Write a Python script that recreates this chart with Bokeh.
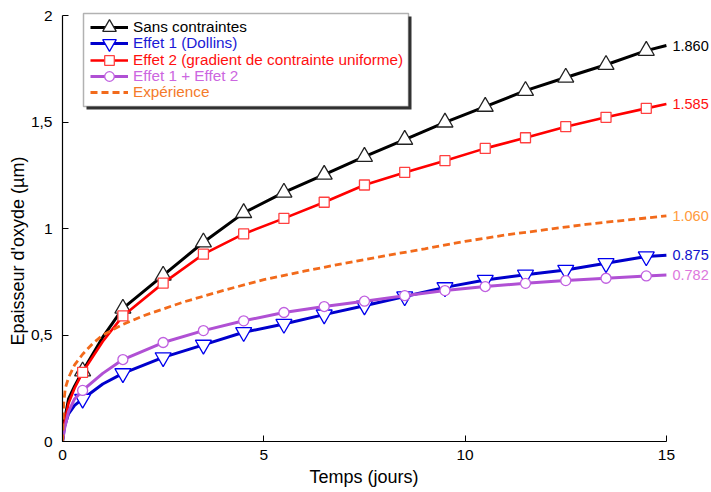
import numpy as np
from bokeh.plotting import figure
from bokeh.models import (Legend, LegendItem, BoxAnnotation, ColumnDataSource,
                          CustomJSTickFormatter, Title)
from bokeh.core.properties import value
from bokeh.embed import file_html
from bokeh.resources import INLINE

FONT = "Liberation Sans"

# ---------------- data ----------------
t = [0, 0.05, 0.15, 0.3, 0.5, 1.0, 1.5, 2.5, 3.5, 4.5, 5.5, 6.5, 7.5, 8.5,
     9.5, 10.5, 11.5, 12.5, 13.5, 14.5, 15]
sans_contraintes = [0, 0.10, 0.20, 0.26, 0.33, 0.49, 0.625, 0.78, 0.936, 1.074,
                    1.17, 1.254, 1.338, 1.418, 1.499, 1.573, 1.648, 1.710,
                    1.770, 1.836, 1.860]
effet1 = [0, 0.07, 0.13, 0.17, 0.20, 0.27, 0.32, 0.395, 0.454, 0.513, 0.552,
          0.596, 0.638, 0.681, 0.724, 0.759, 0.783, 0.806, 0.837, 0.869, 0.875]
effet2 = [0, 0.09, 0.18, 0.25, 0.325, 0.47, 0.59, 0.744, 0.880, 0.975, 1.048,
          1.124, 1.205, 1.264, 1.319, 1.377, 1.427, 1.479, 1.523, 1.565, 1.585]
effet12 = [0, 0.06, 0.14, 0.20, 0.24, 0.32, 0.385, 0.465, 0.521, 0.567, 0.606,
           0.634, 0.659, 0.685, 0.709, 0.728, 0.743, 0.756, 0.767, 0.778, 0.782]
exp_t = [0, 0.03, 0.07, 0.15, 0.3, 0.5, 0.75, 1, 1.5, 2, 3, 4, 5, 6, 7, 8, 9,
         10, 11, 12, 13, 14, 15]
experience = [0, 0.18, 0.25, 0.30, 0.36, 0.41, 0.46, 0.50, 0.55, 0.59, 0.655,
              0.71, 0.76, 0.80, 0.837, 0.872, 0.905, 0.94, 0.97, 0.995, 1.02,
              1.04, 1.06]

labels = ["Sans contraintes", "Effet 1 (Dollins)",
          "Effet 2 (gradient de contrainte uniforme)", "Effet 1 + Effet 2",
          "Expérience"]
x_title = "Temps (jours)"
y_title = "Epaisseur d'oxyde (µm)"
x_ticks = [0, 5, 10, 15]
y_ticks = [0, 0.5, 1, 1.5, 2]

# ---------------- figure ----------------
p = figure(width=711, height=492, x_range=(0, 16.12), y_range=(0, 2.02),
           output_backend="svg", toolbar_location=None,
           min_border_left=62, min_border_right=0, min_border_top=11,
           min_border_bottom=51)
p.outline_line_color = None
p.xgrid.grid_line_color = None
p.ygrid.grid_line_color = None
p.background_fill_color = "white"

for ax in (p.xaxis[0], p.yaxis[0]):
    ax.axis_line_color = "black"
    ax.axis_line_width = 1.2
    ax.major_tick_line_color = "black"
    ax.major_tick_in = 6
    ax.major_tick_out = 0
    ax.minor_tick_line_color = None
    ax.major_label_text_font = FONT
    ax.major_label_text_font_size = "15.5px"
    ax.major_label_text_color = "black"

p.xaxis.ticker = x_ticks
p.yaxis.ticker = y_ticks
p.xaxis.bounds = (0, 15)
p.yaxis.bounds = (0, 2)
p.xaxis.major_label_standoff = 8
p.yaxis.major_label_standoff = 10
p.yaxis.formatter = CustomJSTickFormatter(code="return tick.toString().replace('.', ',');")

# axis titles, positioned like the original (centred on the 0-15 span)
p.add_layout(Title(text=x_title, align="left", offset=247, standoff=5,
                   text_font=FONT, text_font_size="18px",
                   text_font_style="normal", text_color="black"), "below")
p.add_layout(Title(text=y_title, align="left", offset=96, standoff=0,
                   text_font=FONT, text_font_size="18px",
                   text_font_style="normal", text_color="black"), "left")

# ---------------- series ----------------
tt = np.array(t)
mask = np.isclose(np.mod(tt, 1.0), 0.5)

series = [
    dict(y=sans_contraintes, lc="#000000", lw=3, marker="triangle", ms=16,
         mlc="#222222", tc="#000000", gh=34),
    dict(y=effet1, lc="#0000cc", lw=3, marker="inverted_triangle", ms=16,
         mlc="#0000ee", tc="#1a1ad6", gh=34),
    dict(y=effet2, lc="#ff0000", lw=2.6, marker="square", ms=10,
         mlc="#ff4040", tc="#ff1010", gh=24),
    dict(y=effet12, lc="#b050d4", lw=3, marker="circle", ms=10,
         mlc="#c060e0", tc="#cc66e0", gh=24),
]

renderers = []
for s in series:
    yy = np.array(s["y"])
    src_line = ColumnDataSource(dict(x=tt, y=yy))
    src_mark = ColumnDataSource(dict(x=tt[mask], y=yy[mask]))
    rl = p.line("x", "y", source=src_line, line_color=s["lc"],
                line_width=s["lw"])
    rm = p.scatter("x", "y", source=src_mark, marker=s["marker"], size=s["ms"],
                   fill_color="white", line_color=s["mlc"], line_width=1.3)
    renderers.append([rl, rm])

src_exp = ColumnDataSource(dict(x=exp_t, y=experience))
re = p.line("x", "y", source=src_exp, line_color="#f26a1b", line_width=2.8,
            line_dash="7 4")
renderers.append([re])

# end-value labels
end_vals = [sans_contraintes[-1], effet2[-1], experience[-1], effet1[-1],
            effet12[-1]]
end_cols = ["#000000", "#ff1010", "#ff9a3c", "#1010cc", "#dd77dd"]
end_src = ColumnDataSource(dict(
    x=[t[-1] + 0.15] * len(end_vals), y=end_vals,
    txt=[f"{v:.3f}" for v in end_vals], c=end_cols))
p.text("x", "y", text="txt", source=end_src, text_color="c",
       text_font=value(FONT), text_font_size="14.5px",
       text_baseline="middle", text_align="left")

# ---------------- legend ----------------
shadow = BoxAnnotation(left=24, right=349, top=425, bottom=332,
                       left_units="screen", right_units="screen",
                       top_units="screen", bottom_units="screen",
                       fill_color="#333333", fill_alpha=1, line_color=None,
                       level="underlay")
box = BoxAnnotation(left=21, right=346, top=428, bottom=335,
                    left_units="screen", right_units="screen",
                    top_units="screen", bottom_units="screen",
                    fill_color="white", fill_alpha=1, line_color="black",
                    line_width=1.5, level="underlay")
p.add_layout(shadow)
p.add_layout(box)

row_centers = [27, 43.3, 59.6, 75.9, 92.2]
text_cols = [s["tc"] for s in series] + ["#f47a2a"]
gheights = [s["gh"] for s in series] + [20]
for lab, rs, c, tc, gh in zip(labels, renderers, row_centers, text_cols, gheights):
    lg = Legend(items=[LegendItem(label=lab, renderers=rs)],
                location=(28, 441 - c - gh / 2.0),
                border_line_color=None, background_fill_alpha=0,
                padding=0, margin=0, spacing=0,
                glyph_width=38, glyph_height=gh, label_height=16,
                label_standoff=5, label_text_font=FONT,
                label_text_font_size="15.3px", label_text_color=tc)
    p.add_layout(lg)

open("out.html", "w").write(file_html(p, INLINE))
